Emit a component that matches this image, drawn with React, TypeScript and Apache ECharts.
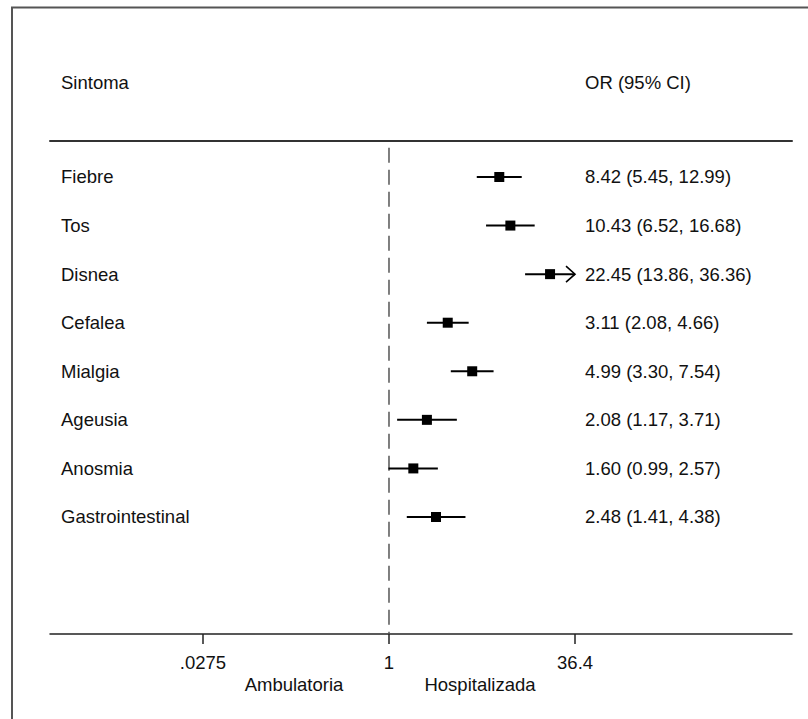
import React, { useEffect, useRef } from "react";
import * as echarts from "echarts";

const symptoms = ["Fiebre", "Tos", "Disnea", "Cefalea", "Mialgia", "Ageusia", "Anosmia", "Gastrointestinal"];
const orValues = [8.42, 10.43, 22.45, 3.11, 4.99, 2.08, 1.6, 2.48];
const ciLower = [5.45, 6.52, 13.86, 2.08, 3.3, 1.17, 0.99, 1.41];
const ciUpper = [12.99, 16.68, 36.36, 4.66, 7.54, 3.71, 2.57, 4.38];
const truncatedUpper = [false, false, true, false, false, false, false, false];
const tickValues = [0.0275, 1, 36.4];
const tickLabels = [".0275", "1", "36.4"];
const nullValue = 1;
const headerLeft = "Sintoma";
const headerRight = "OR (95% CI)";
const favourLeft = "Ambulatoria";
const favourRight = "Hospitalizada";

const FONT = "Liberation Sans, Arial, Helvetica, sans-serif";
const FS = 18.5;
const TXT = "#111";

const lg = (v: number) => Math.log10(v);
const X_MIN = -2.844;
const X_MAX = 3.381;
const Y_MIN = -0.741;
const Y_MAX = 9.409;

export default function App() {
  const ref = useRef<HTMLDivElement>(null);
  useEffect(() => {
    if (!ref.current) return;
    const chart = echarts.init(ref.current, null, { renderer: "svg" });
    const tickLogs = tickValues.map(lg);
    const rows = symptoms.map((s, i) => [i, orValues[i], ciLower[i], ciUpper[i]]);
    const option: any = {
      animation: false,
      backgroundColor: "#fff",
      grid: { left: 50, right: 16, top: 141, bottom: 85, containLabel: false },
      xAxis: [
        {
          type: "value",
          position: "bottom",
          min: X_MIN,
          max: X_MAX,
          axisLine: { show: true, onZero: false, lineStyle: { color: "#222", width: 1.5 } },
          axisTick: { show: true, customValues: tickLogs, length: 10, lineStyle: { color: "#222", width: 1.5 } },
          axisLabel: {
            show: true,
            customValues: tickLogs,
            margin: 19,
            fontSize: FS,
            fontFamily: FONT,
            color: TXT,
            formatter: (v: number) => {
              let best = 0;
              tickLogs.forEach((t, k) => {
                if (Math.abs(t - v) < Math.abs(tickLogs[best] - v)) best = k;
              });
              return tickLabels[best];
            },
          },
          splitLine: { show: false },
        },
        {
          type: "value",
          position: "top",
          min: X_MIN,
          max: X_MAX,
          axisLine: { show: true, onZero: false, lineStyle: { color: "#333", width: 2 } },
          axisTick: { show: false },
          axisLabel: { show: false },
          splitLine: { show: false },
        },
      ],
      yAxis: {
        type: "value",
        inverse: true,
        min: Y_MIN,
        max: Y_MAX,
        show: false,
        splitLine: { show: false },
      },
      series: [
        {
          type: "line",
          xAxisIndex: 0,
          data: [
            [lg(nullValue), -0.6],
            [lg(nullValue), Y_MAX],
          ],
          symbol: "none",
          silent: true,
          lineStyle: { color: "#555", width: 1.5, type: [15, 7] },
          z: 1,
        },
        {
          type: "custom",
          xAxisIndex: 0,
          clip: false,
          data: rows,
          z: 3,
          renderItem: (params: any, api: any) => {
            const idx = params.dataIndex;
            const i = api.value(0);
            const orv = api.value(1);
            const lo = api.value(2);
            const hi = api.value(3);
            const y = api.coord([0, i])[1];
            const xo = api.coord([lg(orv), i])[0];
            const xl = api.coord([lg(lo), i])[0];
            const xh = api.coord([lg(hi), i])[0];
            const children: any[] = [
              {
                type: "line",
                shape: { x1: xl, y1: y, x2: xh, y2: y },
                style: { stroke: "#000", lineWidth: 2 },
              },
              {
                type: "rect",
                shape: { x: xo - 5, y: y - 5, width: 10, height: 10 },
                style: { fill: "#000" },
              },
              {
                type: "text",
                x: 61,
                y: y,
                style: {
                  text: symptoms[idx],
                  fill: TXT,
                  font: `${FS}px ${FONT}`,
                  align: "left",
                  verticalAlign: "middle",
                  textAlign: "left",
                  textVerticalAlign: "middle",
                },
              },
              {
                type: "text",
                x: 585,
                y: y,
                style: {
                  text: `${orValues[idx].toFixed(2)} (${ciLower[idx].toFixed(2)}, ${ciUpper[idx].toFixed(2)})`,
                  fill: TXT,
                  font: `${FS}px ${FONT}`,
                  align: "left",
                  verticalAlign: "middle",
                  textAlign: "left",
                  textVerticalAlign: "middle",
                },
              },
            ];
            if (truncatedUpper[idx]) {
              children.push({
                type: "polyline",
                shape: {
                  points: [
                    [xh - 9, y - 8],
                    [xh, y],
                    [xh - 9, y + 8],
                  ],
                },
                style: { stroke: "#000", lineWidth: 1.6, fill: "none" },
              });
            }
            return { type: "group", children };
          },
        },
      ],
      graphic: [
        {
          type: "rect",
          shape: { x: 12, y: 7.5, width: 1000, height: 1000 },
          style: { fill: "none", stroke: "#555", lineWidth: 2 },
          silent: true,
        },
        {
          type: "text",
          x: 61,
          y: 82,
          style: { text: headerLeft, fill: TXT, font: `${FS}px ${FONT}`, textAlign: "left", textVerticalAlign: "middle" },
        },
        {
          type: "text",
          x: 585,
          y: 82,
          style: { text: headerRight, fill: TXT, font: `${FS}px ${FONT}`, textAlign: "left", textVerticalAlign: "middle" },
        },
        {
          type: "text",
          x: 294,
          y: 684,
          style: { text: favourLeft, fill: TXT, font: `${FS}px ${FONT}`, textAlign: "center", textVerticalAlign: "middle" },
        },
        {
          type: "text",
          x: 480,
          y: 684,
          style: { text: favourRight, fill: TXT, font: `${FS}px ${FONT}`, textAlign: "center", textVerticalAlign: "middle" },
        },
      ],
    };
    chart.setOption(option);
    return () => chart.dispose();
  }, []);
  return (
    <div
      ref={ref}
      style={{ position: "absolute", left: 0, top: 0, width: 808, height: 719, background: "#fff" }}
    />
  );
}
